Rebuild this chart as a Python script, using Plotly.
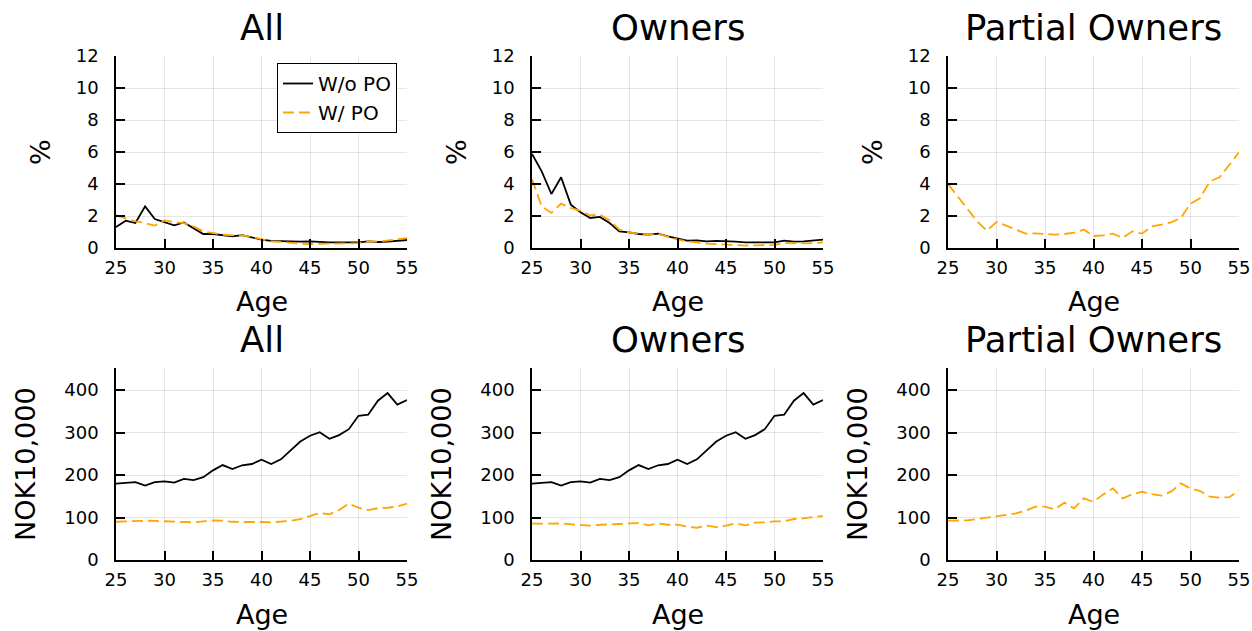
import plotly.graph_objects as go

# ---------------- data ----------------
ages = list(range(25, 56))

# Top row: percent
all_pct_wo = [1.31, 1.71, 1.56, 2.6, 1.81, 1.63, 1.42, 1.6, 1.25, 0.875, 0.875, 0.79, 0.73, 0.81, 0.67,
              0.52, 0.44, 0.42, 0.375, 0.4, 0.42, 0.375, 0.35, 0.35, 0.33, 0.35, 0.42, 0.375, 0.4, 0.44, 0.5]
all_pct_w = [2.04, 1.87, 1.67, 1.56, 1.4, 1.73, 1.62, 1.56, 1.35, 1.04, 0.94, 0.83, 0.79, 0.79, 0.69,
             0.56, 0.42, 0.375, 0.31, 0.27, 0.25, 0.25, 0.27, 0.27, 0.29, 0.31, 0.42, 0.4, 0.46, 0.52, 0.62]
own_pct_wo = [5.875, 4.79, 3.375, 4.42, 2.71, 2.23, 1.875, 1.94, 1.56, 1.04, 0.98, 0.875, 0.83, 0.9, 0.73,
              0.58, 0.46, 0.48, 0.42, 0.44, 0.44, 0.4, 0.35, 0.35, 0.35, 0.35, 0.46, 0.4, 0.42, 0.46, 0.52]
own_pct_w = [4.31, 2.6, 2.19, 2.77, 2.5, 2.33, 2.04, 2.08, 1.73, 1.15, 0.98, 0.875, 0.81, 0.9, 0.73,
             0.52, 0.42, 0.35, 0.27, 0.25, 0.21, 0.15, 0.15, 0.17, 0.17, 0.19, 0.31, 0.29, 0.29, 0.31, 0.35]
part_pct_w = [4.0, 3.23, 2.4, 1.67, 1.08, 1.625, 1.4, 1.15, 0.9, 0.92, 0.875, 0.83, 0.875, 0.96, 1.15,
              0.75, 0.79, 0.9, 0.625, 1.04, 0.9, 1.35, 1.46, 1.6, 1.875, 2.77, 3.125, 4.17, 4.42, 5.2, 5.98]

# Bottom row: NOK10,000
all_inc_wo = [179.6, 181, 183.5, 175, 183.5, 185, 182, 191, 188, 195, 211, 223.5, 214, 223, 226,
              236, 226, 237, 259, 279, 292.5, 301, 285.5, 294, 308, 339.6, 342, 375, 393, 366, 376.5]
all_inc_w = [90, 91, 92, 92.5, 92, 91, 89.4, 88.6, 88.6, 91, 93, 92.5, 90, 89.4, 90,
             89.4, 88.6, 91, 92, 96.5, 104, 110.6, 107.5, 117.6, 132.5, 123, 117.6, 122, 123, 126, 133]
own_inc_wo = [179.6, 181, 183.5, 175, 183.5, 185, 182, 191, 188, 195, 211, 223.5, 214, 223, 226,
              236, 226, 237, 259, 279, 292.5, 301, 285.5, 294, 308, 339.6, 342, 375, 393, 366, 376.5]
own_inc_w = [85.5, 84.7, 85.5, 86, 84.7, 83, 80.8, 83, 83, 84.7, 86, 87, 81.6, 86, 83,
             83, 78.4, 76, 80.8, 77.6, 80.8, 86, 81.6, 87.8, 88.6, 91, 91, 96.5, 98, 100.4, 104]
part_inc_w = [92.5, 92.5, 93.3, 96.5, 99.6, 102, 106, 110, 116, 125.5, 125.5, 119, 135, 121.6, 145,
              137, 154.5, 168.6, 145, 154.5, 160.8, 155, 151.4, 160.8, 180.4, 168.6, 162.4, 149, 146.7, 148, 163]

titles = ["All", "Owners", "Partial Owners"]
series_names = ["W/o PO", "W/ PO"]
x_ticks = [25, 30, 35, 40, 45, 50, 55]
pct_ticks = [0, 2, 4, 6, 8, 10, 12]
inc_ticks = [0, 100, 200, 300, 400]

# ---------------- layout helpers ----------------
W, H = 1252, 631
FONT = "DejaVu Sans"
BLACK = "#000000"
ORANGE = "#FFA500"
cols = [(116, 407), (532, 823), (948, 1239)]
rows = [(56, 248), (368, 560)]


def px(x):
    return x / W


def py(y):
    return 1 - y / H


fig = go.Figure()

panels = [
    (0, 0, [all_pct_wo, all_pct_w]),
    (0, 1, [own_pct_wo, own_pct_w]),
    (0, 2, [None, part_pct_w]),
    (1, 0, [all_inc_wo, all_inc_w]),
    (1, 1, [own_inc_wo, own_inc_w]),
    (1, 2, [None, part_inc_w]),
]

annotations = []
for k, (r, c, data) in enumerate(panels):
    idx = k + 1
    sfx = "" if idx == 1 else str(idx)
    xa, ya = "x" + sfx, "y" + sfx
    for s, vals in enumerate(data):
        if vals is None:
            continue
        fig.add_trace(go.Scatter(
            x=ages, y=vals, mode="lines", name=series_names[s],
            xaxis=xa, yaxis=ya,
            showlegend=(idx == 1),
            line=dict(color=BLACK if s == 0 else ORANGE, width=1.8,
                      dash="solid" if s == 0 else "11px,5px"),
        ))
    x0, x1 = cols[c]
    y0, y1 = rows[r]
    axis_common = dict(
        showline=True, linecolor=BLACK, linewidth=1.5, mirror=False,
        ticks="inside", ticklen=9, tickwidth=1.5, tickcolor=BLACK,
        showgrid=True, gridcolor="rgba(0,0,0,0.1)", gridwidth=1,
        zeroline=False, automargin=False,
        tickfont=dict(family=FONT, size=18, color=BLACK),
    )
    fig.update_layout(**{
        ("xaxis" + sfx): dict(domain=[px(x0), px(x1)], anchor=ya, range=[25, 55],
                              tickvals=x_ticks, ticklabelstandoff=3, **axis_common),
        ("yaxis" + sfx): dict(domain=[py(y1), py(y0)], anchor=xa,
                              range=[0, 12] if r == 0 else [0, 452],
                              tickvals=pct_ticks if r == 0 else inc_ticks,
                              ticklabelstandoff=12, **axis_common),
    })
    cx = (x0 + x1) / 2
    cy = (y0 + y1) / 2
    # subplot title
    annotations.append(dict(text=titles[c], x=px(cx), y=py(y0 - 28.5), xref="paper", yref="paper",
                            xanchor="center", yanchor="middle", showarrow=False,
                            font=dict(family=FONT, size=35.5, color=BLACK)))
    # x axis title
    annotations.append(dict(text="Age", x=px(cx), y=py(y1 + 54), xref="paper", yref="paper",
                            xanchor="center", yanchor="middle", showarrow=False,
                            font=dict(family=FONT, size=27, color=BLACK)))
    # y axis title
    ytxt = "%" if r == 0 else "NOK10,000"
    yoff = 76 if r == 0 else 91
    annotations.append(dict(text=ytxt, x=px(x0 - yoff), y=py(cy), xref="paper", yref="paper",
                            xanchor="center", yanchor="middle", showarrow=False, textangle=-90,
                            font=dict(family=FONT, size=27, color=BLACK)))

fig.update_layout(
    width=W, height=H,
    margin=dict(l=0, r=0, t=0, b=0, autoexpand=False),
    paper_bgcolor="white", plot_bgcolor="white",
    annotations=annotations,
    showlegend=True,
    legend=dict(x=px(397), y=py(63), xanchor="right", yanchor="top",
                bgcolor="white", bordercolor=BLACK, borderwidth=1,
                font=dict(family=FONT, size=20, color=BLACK),
                itemwidth=30, tracegroupgap=0),
)

fig.write_html("out.html")
